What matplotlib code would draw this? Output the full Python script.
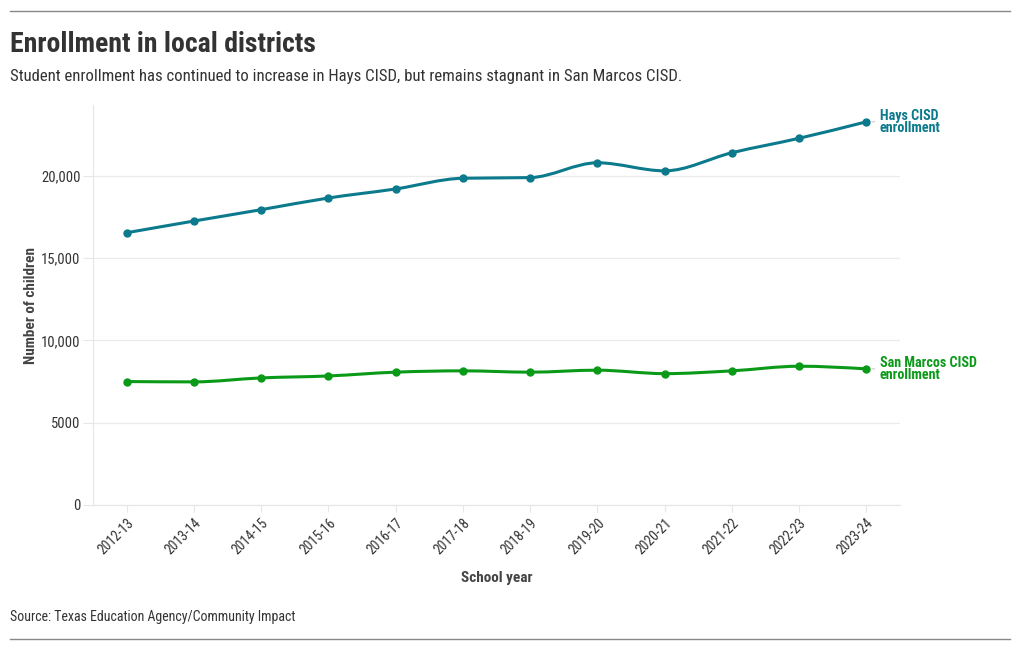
import matplotlib
matplotlib.use("Agg")
import matplotlib.pyplot as plt
import numpy as np
from matplotlib.path import Path
from matplotlib.patches import PathPatch
from matplotlib.ticker import FuncFormatter

plt.rcParams['font.family'] = ['Roboto Condensed', 'Roboto', 'DejaVu Sans']
plt.rcParams['font.stretch'] = 'condensed'

# data
years = ['2012-13', '2013-14', '2014-15', '2015-16', '2016-17', '2017-18',
         '2018-19', '2019-20', '2020-21', '2021-22', '2022-23', '2023-24']
hays = [16540, 17250, 17940, 18650, 19200, 19850, 19890, 20790, 20300, 21400, 22280, 23280]
san_marcos = [7500, 7480, 7720, 7840, 8070, 8150, 8070, 8190, 7980, 8150, 8430, 8270]

teal = '#0b7a8c'
green = '#0a9a18'
text_col = '#333333'


def monotone_path(x, y):
    # monotone cubic curve (like d3 curveMonotoneX) as bezier path
    x = np.asarray(x, float)
    y = np.asarray(y, float)
    h = np.diff(x)
    s = np.diff(y) / h
    n = len(x)
    t = np.zeros(n)
    for i in range(1, n - 1):
        p = (s[i - 1] * h[i] + s[i] * h[i - 1]) / (h[i - 1] + h[i])
        t[i] = (np.sign(s[i - 1]) + np.sign(s[i])) * min(abs(s[i - 1]), abs(s[i]), 0.5 * abs(p))
    t[0] = (3 * s[0] - t[1]) / 2
    t[-1] = (3 * s[-1] - t[-2]) / 2
    verts = [(x[0], y[0])]
    codes = [Path.MOVETO]
    for i in range(n - 1):
        dx = h[i] / 3
        verts += [(x[i] + dx, y[i] + dx * t[i]),
                  (x[i + 1] - dx, y[i + 1] - dx * t[i + 1]),
                  (x[i + 1], y[i + 1])]
        codes += [Path.CURVE4] * 3
    return Path(verts, codes)


fig = plt.figure(figsize=(10.2, 6.5), dpi=100)
ax = fig.add_axes([93 / 1020, 145 / 650, 807 / 1020, 400 / 650])

xs = np.arange(len(years))
for vals, col in [(hays, teal), (san_marcos, green)]:
    ax.add_patch(PathPatch(monotone_path(xs, vals), facecolor='none',
                           edgecolor=col, lw=2.2, zorder=3))
    ax.plot(xs, vals, 'o', color=col, ms=5, zorder=4)

ax.set_xlim(-0.5, 11.5)
ax.set_ylim(0, 24300)
ax.set_yticks([0, 5000, 10000, 15000, 20000])
ax.yaxis.set_major_formatter(FuncFormatter(
    lambda v, p: f'{int(v):,}' if v >= 10000 else f'{int(v)}'))
ax.set_xticks(xs)
ax.set_xticklabels(years, rotation=45, ha='right', rotation_mode='anchor')

ax.grid(axis='y', color='#ebebeb', lw=0.9)
ax.set_axisbelow(True)
for side in ['top', 'right']:
    ax.spines[side].set_visible(False)
ax.spines['left'].set_color('#e6e6e6')
ax.spines['bottom'].set_color('#e6e6e6')
ax.tick_params(axis='y', length=7, color='#e6e6e6', labelsize=10.5, labelcolor=text_col, pad=2)
ax.tick_params(axis='x', length=5, color='#e6e6e6', labelsize=10, labelcolor=text_col, pad=3)

ax.set_xlabel('School year', fontsize=11, fontweight='bold', color='#444444', labelpad=10)
ax.set_ylabel('Number of children', fontsize=11, fontweight='bold', color='#444444', labelpad=2)

# end labels with a short connector dash
for vals, col, lab in [(hays, teal, 'Hays CISD\nenrollment'),
                       (san_marcos, green, 'San Marcos CISD\nenrollment')]:
    ax.annotate(lab, xy=(xs[-1], vals[-1]), xytext=(9.5, 0),
                textcoords='offset points', va='center', ha='left', fontsize=10.2,
                fontweight='bold', color=col, linespacing=0.85, annotation_clip=False)
    ax.annotate('', xy=(xs[-1], vals[-1]), xytext=(6, 0), textcoords='offset points',
                arrowprops=dict(arrowstyle='-', color='#cccccc', lw=0.8,
                                shrinkA=0, shrinkB=4), annotation_clip=False)

fig.text(10 / 1020, 1 - 44 / 650, 'Enrollment in local districts', fontsize=20,
         fontweight='bold', color=text_col, va='center')
fig.text(10 / 1020, 1 - 76 / 650,
         'Student enrollment has continued to increase in Hays CISD, but remains stagnant in San Marcos CISD.',
         fontsize=12.1, color=text_col, va='center')
fig.text(10 / 1020, 1 - 617 / 650, 'Source: Texas Education Agency/Community Impact',
         fontsize=10, color=text_col, va='center')

for yy in [11, 639]:
    fig.add_artist(plt.Line2D([10 / 1020, 1010 / 1020], [1 - yy / 650, 1 - yy / 650],
                              color='#888888', lw=1))

fig.savefig('out.png', dpi=100)
